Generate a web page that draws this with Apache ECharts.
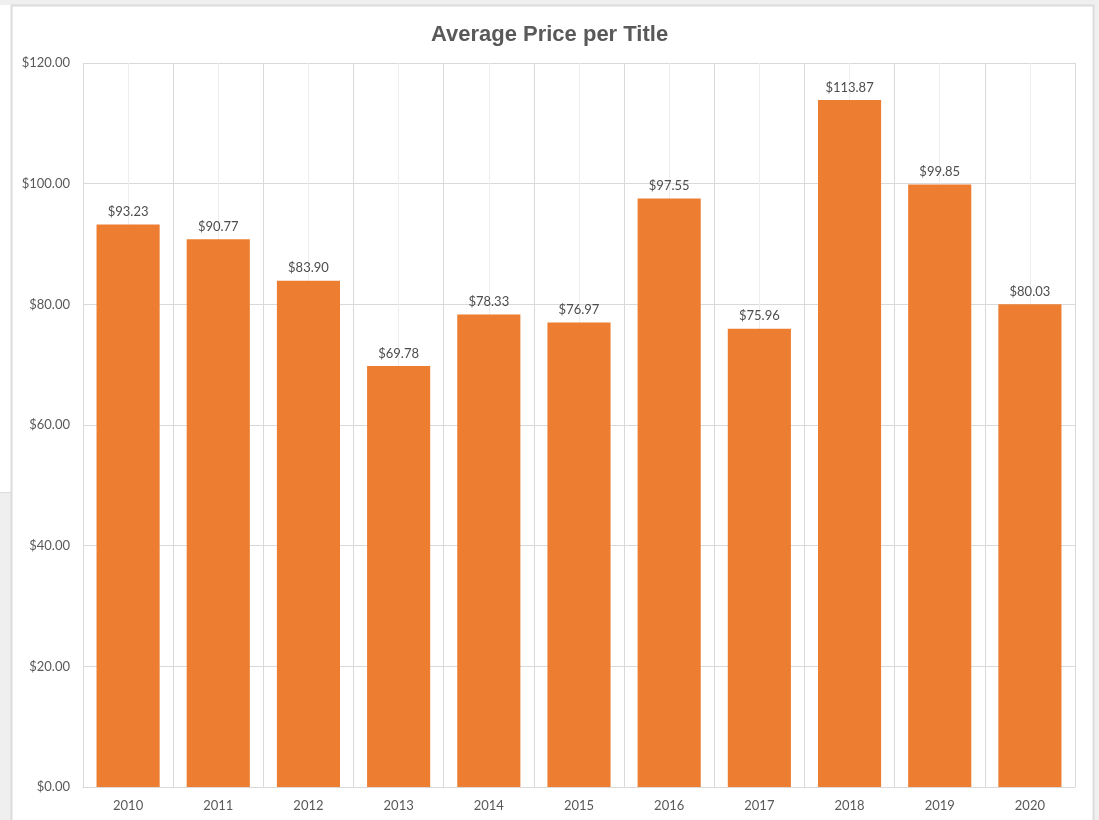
<!DOCTYPE html>
<html lang="en">
<head>
    <meta charset="UTF-8">
    <title>Average Price per Title</title>
    <script src="https://cdn.jsdelivr.net/npm/echarts@6/dist/echarts.min.js"></script>
    <style>
        body { margin: 0; padding: 0; background: #fff; }
    </style>
</head>
<body>
    <div id="chart" style="width:1099px;height:820px;"></div>
    <script>
        var years = ["2010", "2011", "2012", "2013", "2014", "2015", "2016", "2017", "2018", "2019", "2020"];
        var prices = [93.23, 90.77, 83.90, 69.78, 78.33, 76.97, 97.55, 75.96, 113.87, 99.85, 80.03];
        var yTicks = [0, 20, 40, 60, 80, 100, 120];

        var chart = echarts.init(document.getElementById("chart"));
        var grey = "#efefef";
        var border = "#d9d9d9";

        var option = {
            animation: false,
            title: {
                text: "Average Price per Title",
                left: "center",
                top: 19,
                textStyle: { fontFamily: "Liberation Sans", fontSize: 22, fontWeight: "bold", color: "#595959" }
            },
            // window frame around the chart area
            graphic: [
                { type: "rect", shape: { x: 0, y: 0, width: 1099, height: 5 }, style: { fill: grey }, silent: true },
                { type: "rect", shape: { x: 1094, y: 0, width: 5, height: 820 }, style: { fill: grey }, silent: true },
                { type: "rect", shape: { x: 0, y: 492, width: 11, height: 328 }, style: { fill: grey }, silent: true },
                { type: "line", shape: { x1: 11.5, y1: 5, x2: 11.5, y2: 820 }, style: { stroke: "#dcdcdc", lineWidth: 2 }, silent: true },
                { type: "line", shape: { x1: 11, y1: 5.5, x2: 1094, y2: 5.5 }, style: { stroke: "#dcdcdc", lineWidth: 2 }, silent: true },
                { type: "line", shape: { x1: 1093.5, y1: 5, x2: 1093.5, y2: 820 }, style: { stroke: "#dcdcdc", lineWidth: 2 }, silent: true },
                { type: "line", shape: { x1: 0, y1: 492.5, x2: 11, y2: 492.5 }, style: { stroke: "#dcdcdc", lineWidth: 1 }, silent: true }
            ],
            grid: { left: 83, right: 24, top: 63, bottom: 33 },
            xAxis: [
                {
                    type: "category",
                    data: years,
                    axisLine: { lineStyle: { color: border } },
                    axisTick: { show: false },
                    axisLabel: { color: "#595959", fontFamily: "Lato", fontSize: 13, margin: 12 },
                    splitLine: { show: false }
                },
                {
                    // helper axis for the vertical grid lines (boundaries + centres)
                    type: "value",
                    min: 0,
                    max: 22,
                    interval: 2,
                    position: "bottom",
                    axisLine: { show: false },
                    axisTick: { show: false },
                    axisLabel: { show: false },
                    splitLine: { show: true, lineStyle: { color: border } },
                    minorTick: { show: false, splitNumber: 2 },
                    minorSplitLine: { show: true, lineStyle: { color: "#ededed" } }
                }
            ],
            yAxis: {
                type: "value",
                min: yTicks[0],
                max: yTicks[yTicks.length - 1],
                interval: 20,
                axisLine: { show: false },
                axisTick: { show: false },
                axisLabel: {
                    color: "#595959", fontFamily: "Lato", fontSize: 13, margin: 13,
                    formatter: function (v) { return "$" + v.toFixed(2); }
                },
                splitLine: { lineStyle: { color: border } }
            },
            series: [
                {
                    type: "bar",
                    xAxisIndex: 0,
                    data: prices,
                    barCategoryGap: "30%",
                    itemStyle: { color: "#ED7D31" },
                    label: {
                        show: true,
                        position: "top",
                        distance: 6,
                        color: "#4d4d4d",
                        fontFamily: "Lato",
                        fontSize: 13,
                        formatter: function (p) { return "$" + p.value.toFixed(2); }
                    }
                }
            ]
        };
        chart.setOption(option);
    </script>
</body>
</html>
